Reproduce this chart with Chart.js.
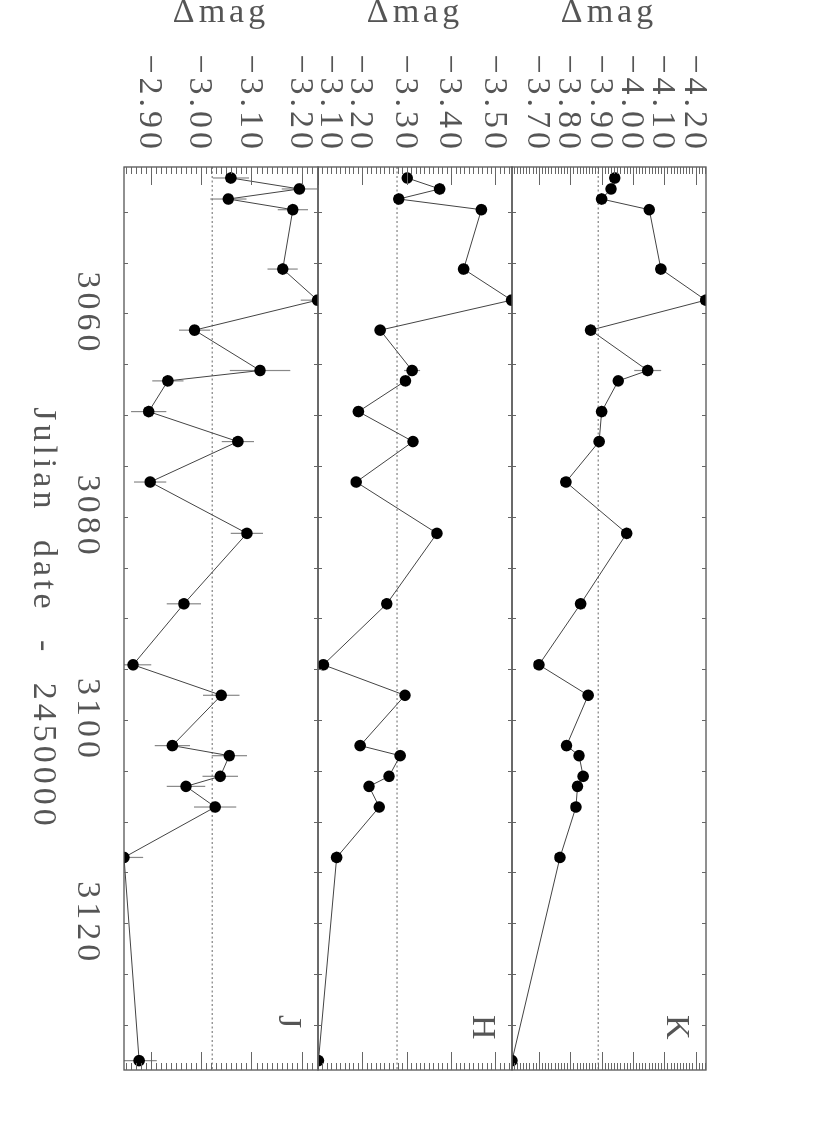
<!DOCTYPE html>
<html>
<head>
<meta charset="utf-8">
<script src="https://cdn.jsdelivr.net/npm/chart.js@4.4.1/dist/chart.umd.min.js"></script>
<style>
html,body{margin:0;padding:0;background:#fff;overflow:hidden;width:830px;height:1127px;}
#rot{position:absolute;left:0;top:0;width:1127px;height:830px;transform-origin:0 0;transform:translate(830px,0) rotate(90deg);background:#fff;}
#rot canvas{position:absolute;left:0;top:0;}
</style>
</head>
<body>
<div id="rot">
<canvas id="cK" width="1127" height="830"></canvas>
<canvas id="cH" width="1127" height="830"></canvas>
<canvas id="cJ" width="1127" height="830"></canvas>
</div>
<script>
// ---- data ----
const DATES = [3046.68, 3047.76, 3048.75, 3049.80, 3055.64, 3058.70, 3061.65, 3065.62, 3066.64, 3069.66, 3072.61, 3076.59, 3081.64, 3088.57, 3094.57, 3097.57, 3102.52, 3103.51, 3105.54, 3106.53, 3108.56, 3113.52, 3133.51];

const K_MAG = [-3.939, -3.927, -3.897, -4.049, -4.086, -4.229, -3.862, -4.044, -3.950, -3.897, -3.889, -3.783, -3.977, -3.830, -3.697, -3.854, -3.785, -3.825, -3.838, -3.820, -3.815, -3.764, -3.611];
const K_ERR = [0.012, 0.012, 0.012, 0.012, 0.012, 0.012, 0.012, 0.043, 0.012, 0.012, 0.012, 0.012, 0.012, 0.012, 0.012, 0.012, 0.012, 0.012, 0.012, 0.012, 0.012, 0.012, 0.012];
const K_MEAN = -3.886;
const K_RANGE = [-4.230, -3.611];
const K_TICKS = [-4.20, -4.10, -4.00, -3.90, -3.80, -3.70];

const H_MAG = [-3.299, -3.372, -3.280, -3.466, -3.426, -3.534, -3.238, -3.310, -3.295, -3.189, -3.312, -3.184, -3.366, -3.253, -3.110, -3.294, -3.193, -3.283, -3.258, -3.213, -3.236, -3.140, -3.099];
const H_ERR = [0.010, 0.010, 0.010, 0.010, 0.010, 0.010, 0.010, 0.018, 0.010, 0.010, 0.010, 0.010, 0.010, 0.010, 0.010, 0.010, 0.010, 0.010, 0.010, 0.010, 0.010, 0.010, 0.010];
const H_MEAN = -3.276;
const H_RANGE = [-3.535, -3.098];
const H_TICKS = [-3.50, -3.40, -3.30, -3.20, -3.10];
const H_EDGE_TICK = -3.10;   // label drawn nudged inside the panel, as in the reference

const J_MAG = [-3.057, -3.193, -3.052, -3.180, -3.160, -3.229, -2.985, -3.115, -2.932, -2.894, -3.071, -2.897, -3.089, -2.964, -2.863, -3.038, -2.941, -3.054, -3.036, -2.968, -3.026, -2.845, -2.875];
const J_ERR = [0.036, 0.035, 0.036, 0.030, 0.030, 0.033, 0.031, 0.060, 0.031, 0.035, 0.032, 0.032, 0.032, 0.034, 0.036, 0.036, 0.035, 0.035, 0.035, 0.038, 0.042, 0.038, 0.035];
const J_MEAN = -3.020;
const J_RANGE = [-3.230, -2.845];
const J_TICKS = [-3.20, -3.10, -3.00, -2.90];

const DATE_TICKS = [3060, 3080, 3100, 3120];
const DATE_MINOR_STEP = 5;
const MAG_MINOR_STEP = 0.01;
const X_MIN = 3045.6;
const X_MAX = 3134.43;

const X_TITLE = 'Julian date - 2450000';
const Y_TITLE = 'Δmag';

// ---- drawing ----
const FONT = "'Liberation Serif', 'DejaVu Serif', serif";
const TXT = '#555';
const AXC = '#555';

function panelPlugin(mags, errs, ticks, letter) {
  return {
    id: 'panel' + letter,
    beforeDraw(chart) { chart.ctx.letterSpacing = '4px'; chart.ctx.wordSpacing = '15px'; },
    beforeDatasetsDraw(chart) {
      const ctx = chart.ctx, ca = chart.chartArea;
      const xs = chart.scales.x, ys = chart.scales.y;
      ctx.save();
      ctx.beginPath(); ctx.rect(ca.left, ca.top, ca.right - ca.left, ca.bottom - ca.top); ctx.clip();
      ctx.strokeStyle = '#888'; ctx.lineWidth = 1.2;
      DATES.forEach((d, i) => {
        const x = xs.getPixelForValue(d);
        const y1 = ys.getPixelForValue(mags[i] - errs[i]);
        const y2 = ys.getPixelForValue(mags[i] + errs[i]);
        ctx.beginPath(); ctx.moveTo(x, y1); ctx.lineTo(x, y2); ctx.stroke();
      });
      ctx.restore();
    },
    afterDraw(chart) {
      const ctx = chart.ctx, ca = chart.chartArea;
      const xs = chart.scales.x, ys = chart.scales.y;
      ctx.save();
      ctx.strokeStyle = AXC; ctx.lineWidth = 1.3;
      ctx.strokeRect(ca.left, ca.top, ca.right - ca.left, ca.bottom - ca.top);
      ctx.lineWidth = 1; ctx.strokeStyle = '#666';
      for (let d = Math.ceil(X_MIN / DATE_MINOR_STEP) * DATE_MINOR_STEP; d <= X_MAX; d += DATE_MINOR_STEP) {
        const x = Math.round(xs.getPixelForValue(d)) + 0.5;
        ctx.beginPath();
        ctx.moveTo(x, ca.top); ctx.lineTo(x, ca.top + 4);
        ctx.moveTo(x, ca.bottom); ctx.lineTo(x, ca.bottom - 4);
        ctx.stroke();
      }
      const lo = Math.min(ys.min, ys.max), hi = Math.max(ys.min, ys.max);
      for (let k = Math.ceil(lo / MAG_MINOR_STEP - 1e-6); k * MAG_MINOR_STEP <= hi + 1e-9; k++) {
        const v = k * MAG_MINOR_STEP;
        const isMajor = ticks.some(t => Math.abs(t - v) < 1e-6);
        const len = isMajor ? 18 : 7;
        const y = Math.round(ys.getPixelForValue(v)) + 0.5;
        ctx.beginPath();
        ctx.moveTo(ca.left, y); ctx.lineTo(ca.left + len, y);
        ctx.moveTo(ca.right, y); ctx.lineTo(ca.right - len, y);
        ctx.stroke();
      }
      ctx.fillStyle = TXT;
      ctx.font = '34px ' + FONT;
      ctx.textAlign = 'left'; ctx.textBaseline = 'alphabetic';
      ctx.fillText(letter, ca.right - 55, ca.top + 39);
      ctx.restore();
      ctx.letterSpacing = '0px'; ctx.wordSpacing = '0px';
    }
  };
}

function fmtMag(v) { return Number(v).toFixed(2).replace('-', '\u2212'); }

function makePanel(id, mags, errs, meanVal, range, ticks, letter, padTop, padBottom, showX, edgeTick) {
  const isEdge = v => edgeTick !== undefined && v !== undefined && Math.abs(v - edgeTick) < 1e-6;
  const xScale = {
    type: 'linear', min: X_MIN, max: X_MAX, display: showX,
    grid: { display: false, drawTicks: false }, border: { display: false },
    afterBuildTicks: s => { s.ticks = DATE_TICKS.map(v => ({ value: v })); },
    ticks: { padding: 17, color: TXT, font: { family: FONT, size: 34 }, maxRotation: 0, autoSkip: false, callback: v => String(v) },
    title: { display: true, text: X_TITLE, color: TXT, font: { family: FONT, size: 34 }, padding: { top: 0, bottom: 23 } }
  };
  if (showX) xScale.afterFit = s => { s.height = 124; };
  return new Chart(document.getElementById(id), {
    type: 'line',
    data: {
      datasets: [
        { data: DATES.map((d, i) => ({ x: d, y: mags[i] })), borderColor: '#444', borderWidth: 1,
          pointRadius: 5.8, pointBackgroundColor: '#000', pointBorderColor: '#000', pointBorderWidth: 0, tension: 0, order: 0 },
        { data: [{ x: X_MIN, y: meanVal }, { x: X_MAX, y: meanVal }], borderColor: '#666', borderWidth: 1,
          borderDash: [2, 2.5], pointRadius: 0, order: 1 }
      ]
    },
    options: {
      responsive: false, animation: false, devicePixelRatio: 1, events: [],
      layout: { padding: { top: padTop, bottom: padBottom, left: 0, right: 57 } },
      plugins: { legend: { display: false }, tooltip: { enabled: false } },
      scales: {
        x: xScale,
        y: {
          type: 'linear', reverse: true, min: range[0], max: range[1],
          grid: { display: false, drawTicks: false }, border: { display: false },
          afterBuildTicks: s => { s.ticks = ticks.map(v => ({ value: v })); },
          afterFit: s => { s.width = 167; },
          ticks: {
            padding: 14, labelOffset: 3, color: TXT, autoSkip: false,
            font: c => ({ family: FONT, size: 34, lineHeight: (c.tick && isEdge(c.tick.value)) ? 28 / 34 : 1.2 }),
            callback: v => isEdge(v) ? [fmtMag(v), ''] : fmtMag(v)
          },
          title: { display: true, text: Y_TITLE, color: TXT, font: { family: FONT, size: 34, lineHeight: 0.7 }, padding: { top: 1, bottom: 0 } }
        }
      }
    },
    plugins: [panelPlugin(mags, errs, ticks, letter)]
  });
}

makePanel('cK', K_MAG, K_ERR, K_MEAN, K_RANGE, K_TICKS, 'K', 124, 512, false);
makePanel('cH', H_MAG, H_ERR, H_MEAN, H_RANGE, H_TICKS, 'H', 318, 318, false, H_EDGE_TICK);
makePanel('cJ', J_MAG, J_ERR, J_MEAN, J_RANGE, J_TICKS, 'J', 512, 0, true);
</script>
</body>
</html>
